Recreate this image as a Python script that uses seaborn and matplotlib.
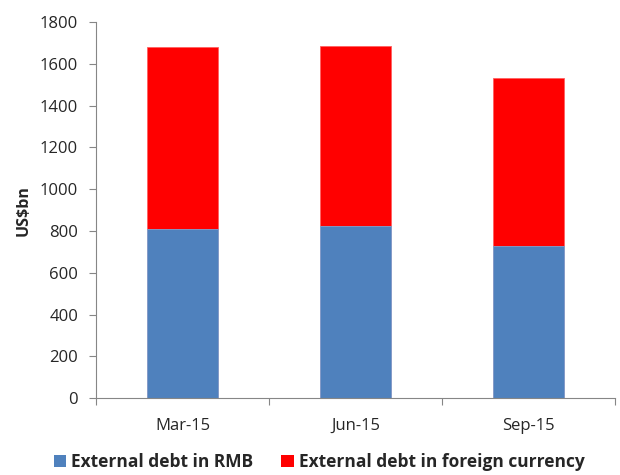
import matplotlib
matplotlib.use("Agg")
import matplotlib.pyplot as plt
import seaborn as sns
import pandas as pd
from matplotlib.patches import Patch

categories = ["Mar-15", "Jun-15", "Sep-15"]
rmb = [808, 824, 728]
foreign = [870, 860, 804]
series_names = ["External debt in RMB", "External debt in foreign currency"]
yticks = [0, 200, 400, 600, 800, 1000, 1200, 1400, 1600, 1800]

blue = "#4F81BD"
red = "#FF0000"

sns.set_theme(style="white")
plt.rcParams["font.family"] = ["Open Sans", "DejaVu Sans"]

df = pd.DataFrame({"cat": categories, "rmb": rmb, "foreign": foreign})
df["total"] = df["rmb"] + df["foreign"]

fig = plt.figure(figsize=(6.2, 4.75), dpi=100)
ax = fig.add_axes([0.155, 0.1615, 0.837, 0.7925])

sns.barplot(data=df, x="cat", y="total", color=red, width=0.41, ax=ax,
            saturation=1, edgecolor="#ff6060", linewidth=0.6)
sns.barplot(data=df, x="cat", y="rmb", color=blue, width=0.41, ax=ax,
            saturation=1, edgecolor="#7fa3d3", linewidth=0.6)

ax.set_xlim(-0.5, 2.5)
ax.set_ylim(0, 1800)
ax.set_yticks(yticks)
ax.set_yticklabels([str(v) for v in yticks], fontsize=12)
ax.set_xlabel("")
ax.set_ylabel("US$bn", fontsize=11.5, fontweight="bold", labelpad=6)
ax.tick_params(axis="x", length=0, labelsize=12, pad=14)
ax.set_xticks([-0.5, 0.5, 1.5, 2.5], minor=True)
ax.tick_params(axis="x", which="minor", length=5, color="#868686", width=0.8, direction="out", bottom=True)
ax.tick_params(axis="y", length=5, color="#868686", width=0.8, direction="out", left=True, pad=8)

for s in ["top", "right"]:
    ax.spines[s].set_visible(False)
for s in ["left", "bottom"]:
    ax.spines[s].set_color("#868686")
    ax.spines[s].set_linewidth(0.8)

handles = [Patch(facecolor=blue, edgecolor="none"), Patch(facecolor=red, edgecolor="none")]
fig.legend(handles, series_names, loc="lower center", bbox_to_anchor=(0.515, -0.025), ncol=2,
           frameon=False, prop={"weight": "bold", "size": 12.5},
           handlelength=0.7, handleheight=0.7, handletextpad=0.3, columnspacing=1.6)

fig.savefig("out.png", dpi=100)
